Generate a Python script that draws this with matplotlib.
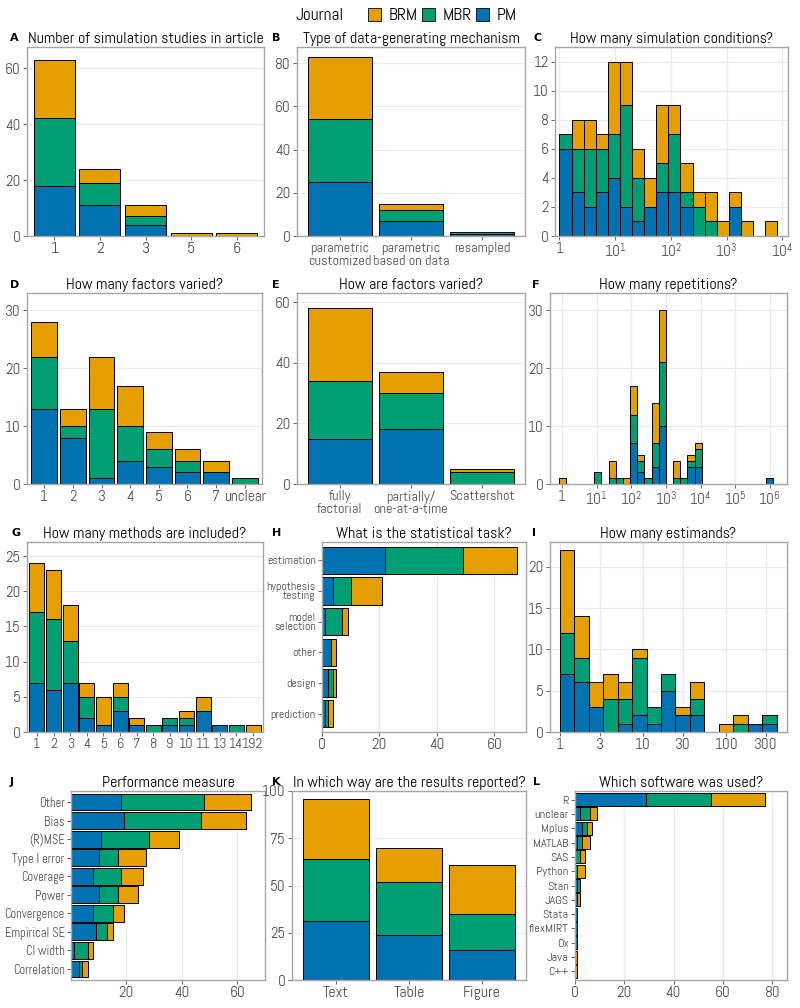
import numpy as np
import matplotlib
matplotlib.use('Agg')
import matplotlib.pyplot as plt
from matplotlib.patches import Patch
from matplotlib.ticker import NullLocator

plt.rcParams['font.family'] = ['Abel', 'DejaVu Sans']
plt.rcParams['mathtext.fontset'] = 'custom'
plt.rcParams['mathtext.rm'] = 'Abel'

# ---- data ----
A_cats = ['1', '2', '3', '5', '6']
A_pm = [18, 11, 4, 0, 0]
A_mbr = [24, 8, 3, 0, 0]
A_brm = [21, 5, 4, 1, 1]

B_cats = ['parametric\ncustomized', 'parametric\nbased on data', 'resampled']
B_pm = [25, 7, 1]
B_mbr = [29, 5, 1]
B_brm = [29, 3, 0]

# histogram counts, log10 bins
C_pm = [6, 3, 2, 3, 4, 2, 1, 2, 3, 3, 2, 0, 0, 0, 2, 0, 0, 0]
C_mbr = [1, 3, 4, 3, 3, 7, 3, 0, 2, 4, 1, 2, 1, 0, 0, 0, 0, 0]
C_brm = [0, 2, 2, 1, 5, 3, 2, 2, 4, 2, 2, 1, 2, 1, 1, 1, 0, 1]
C_binwidth = 0.217

D_cats = ['1', '2', '3', '4', '5', '6', '7', 'unclear']
D_pm = [13, 8, 1, 4, 3, 2, 2, 0]
D_mbr = [9, 2, 12, 6, 3, 2, 0, 1]
D_brm = [6, 3, 9, 7, 3, 2, 2, 0]

E_cats = ['fully\nfactorial', 'partially/\none-at-a-time', 'Scattershot']
E_pm = [15, 18, 0]
E_mbr = [19, 12, 4]
E_brm = [24, 7, 1]

F_pm = [0, 0, 0, 0, 0, 0, 0, 0, 0, 0, 7, 2, 0, 3, 10, 0, 0, 0, 3, 3,
        0, 0, 0, 0, 0, 0, 0, 0, 0, 1]
F_mbr = [0, 0, 0, 0, 0, 2, 0, 1, 1, 0, 5, 2, 1, 4, 11, 0, 1, 1, 1, 3,
         0, 0, 0, 0, 0, 0, 0, 0, 0, 0]
F_brm = [1, 0, 0, 0, 0, 0, 0, 3, 0, 1, 5, 1, 0, 7, 9, 0, 3, 0, 1, 1,
         0, 0, 0, 0, 0, 0, 0, 0, 0, 0]
F_binwidth = 6 / 29

G_cats = ['1', '2', '3', '4', '5', '6', '7', '8', '9', '10', '11', '13', '14', '192']
G_pm = [7, 6, 7, 2, 1, 3, 1, 0, 1, 1, 3, 1, 0, 0]
G_mbr = [10, 10, 6, 3, 0, 2, 0, 1, 1, 1, 0, 0, 1, 0]
G_brm = [7, 7, 5, 2, 4, 2, 1, 0, 0, 1, 2, 0, 0, 1]

H_cats = ['estimation', 'hypothesis\ntesting', 'model\nselection', 'other',
          'design', 'prediction']
H_pm = [22, 4, 1, 3, 2, 1]
H_mbr = [27, 6, 6, 0, 2, 1]
H_brm = [19, 11, 2, 2, 1, 2]

I_pm = [7, 6, 3, 0, 1, 2, 1, 5, 2, 2, 0, 0, 0, 1, 1]
I_mbr = [5, 3, 0, 4, 3, 7, 2, 2, 0, 2, 0, 0, 1, 0, 1]
I_brm = [10, 5, 3, 3, 2, 1, 0, 0, 1, 2, 0, 1, 1, 0, 0]
I_binwidth = 0.1736

J_cats = ['Other', 'Bias', '(R)MSE', 'Type I error', 'Coverage', 'Power',
          'Convergence', 'Empirical SE', 'CI width', 'Correlation']
J_pm = [18, 19, 11, 10, 8, 10, 8, 9, 1, 3]
J_mbr = [30, 28, 17, 7, 10, 7, 7, 4, 5, 1]
J_brm = [17, 16, 11, 10, 8, 7, 4, 2, 2, 2]

K_cats = ['Text', 'Table', 'Figure']
K_pm = [31, 24, 16]
K_mbr = [33, 28, 19]
K_brm = [32, 18, 26]

L_cats = ['R', 'unclear', 'Mplus', 'MATLAB', 'SAS', 'Python', 'Stan', 'JAGS',
          'Stata', 'flexMIRT', 'Ox', 'Java', 'C++']
L_pm = [29, 2, 3, 1, 0, 0, 1, 1, 1, 1, 1, 0, 0]
L_mbr = [26, 4, 2, 2, 2, 1, 1, 0, 0, 0, 0, 0, 0]
L_brm = [22, 3, 2, 3, 2, 3, 0, 1, 0, 0, 0, 1, 1]

COLS = {'PM': '#0072B2', 'MBR': '#009E73', 'BRM': '#E69F00'}
TXT = '#4D4D4D'
GRID = '#EBEBEB'

W, H = 800, 1008
fig = plt.figure(figsize=(W / 100, H / 100), dpi=100)


def px_axes(l, t, r, b):
    return fig.add_axes([l / W, 1 - b / H, (r - l) / W, (b - t) / H])


def style(ax, grid):
    for s in ax.spines.values():
        s.set_color('#A6A6A6')
        s.set_linewidth(1.0)
    ax.tick_params(color='#555555', labelcolor=TXT, length=3, width=0.6,
                   labelsize=11, pad=1.5)
    ax.set_axisbelow(True)
    if 'x' in grid:
        ax.grid(True, axis='x', color=GRID, lw=0.9)
    if 'y' in grid:
        ax.grid(True, axis='y', color=GRID, lw=0.9)


def series(pm, mbr, brm):
    return [(np.array(pm, float), 'PM'), (np.array(mbr, float), 'MBR'),
            (np.array(brm, float), 'BRM')]


def stack_v(ax, cats, pm, mbr, brm, size=11):
    x = np.arange(len(cats))
    bottom = np.zeros(len(cats))
    for v, j in series(pm, mbr, brm):
        m = v > 0
        ax.bar(x[m], v[m], 0.9, bottom=bottom[m], color=COLS[j],
               edgecolor='black', linewidth=0.7)
        bottom += v
    ax.set_xticks(x)
    ax.set_xticklabels(cats, linespacing=0.95)
    ax.set_xlim(-0.6, len(cats) - 0.4)
    style(ax, 'y')
    ax.tick_params(axis='x', labelsize=size)


def stack_h(ax, cats, pm, mbr, brm, size=9):
    n = len(cats)
    y = np.arange(n)[::-1]
    left = np.zeros(n)
    for v, j in series(pm, mbr, brm):
        m = v > 0
        ax.barh(y[m], v[m], 0.9, left=left[m], color=COLS[j],
                edgecolor='black', linewidth=0.7)
        left += v
    ax.set_yticks(y)
    ax.set_yticklabels(cats, linespacing=0.9)
    ax.set_ylim(-0.6, n - 0.4)
    style(ax, 'x')
    ax.tick_params(axis='y', labelsize=size)


def stack_hist(ax, edges, pm, mbr, brm):
    lo = 10 ** edges[:-1]
    wd = 10 ** edges[1:] - lo
    bottom = np.zeros(len(lo))
    for v, j in series(pm, mbr, brm):
        m = v > 0
        ax.bar(lo[m], v[m], wd[m], bottom=bottom[m], align='edge',
               color=COLS[j], edgecolor='black', linewidth=0.7)
        bottom += v
    ax.set_xscale('log')
    ax.xaxis.set_minor_locator(NullLocator())
    style(ax, 'xy')


def pow_labels(n):
    return ['1'] + [r'$\mathregular{10^{%d}}$' % k for k in range(1, n + 1)]


def title(ax, txt, lab, lx, ty):
    ax.set_title(txt, fontsize=11.5, pad=3)
    fig.text(lx / W, 1 - ty / H, lab, fontsize=8, weight='bold',
             family='DejaVu Sans', va='center')


# A
ax = px_axes(27, 47, 264, 236)
stack_v(ax, A_cats, A_pm, A_mbr, A_brm, 11.5)
ax.set_ylim(0, 67.5)
ax.set_yticks([0, 20, 40, 60])
title(ax, 'Number of simulation studies in article', 'A', 10, 38)

# B
ax = px_axes(297, 47, 525, 236)
stack_v(ax, B_cats, B_pm, B_mbr, B_brm, 10.3)
ax.set_ylim(0, 87.5)
ax.set_yticks([0, 20, 40, 60, 80])
title(ax, 'Type of data-generating mechanism', 'B', 272, 38)

# C
ax = px_axes(555, 47, 788, 236)
stack_hist(ax, np.arange(len(C_pm) + 1) * C_binwidth, C_pm, C_mbr, C_brm)
ax.set_xlim(10 ** -0.08, 10 ** 4.1)
ax.set_xticks([10 ** k for k in range(5)])
ax.set_xticklabels(pow_labels(4))
ax.set_ylim(0, 13)
ax.set_yticks(range(0, 13, 2))
title(ax, 'How many simulation conditions?', 'C', 533, 38)

# D
ax = px_axes(27, 293, 262, 484)
stack_v(ax, D_cats, D_pm, D_mbr, D_brm, 11)
ax.set_ylim(0, 33)
ax.set_yticks([0, 10, 20, 30])
title(ax, 'How many factors varied?', 'D', 10, 285)

# E
ax = px_axes(297, 293, 525, 484)
stack_v(ax, E_cats, E_pm, E_mbr, E_brm, 10.3)
ax.set_ylim(0, 63)
ax.set_yticks([0, 20, 40, 60])
title(ax, 'How are factors varied?', 'E', 272, 285)

# F
ax = px_axes(550, 293, 787, 484)
stack_hist(ax, (np.arange(len(F_pm) + 1) - 0.5) * F_binwidth, F_pm, F_mbr, F_brm)
ax.set_xlim(10 ** -0.35, 10 ** 6.5)
ax.set_xticks([10 ** k for k in range(7)])
ax.set_xticklabels(pow_labels(6))
ax.set_ylim(0, 33)
ax.set_yticks([0, 10, 20, 30])
title(ax, 'How many repetitions?', 'F', 532, 285)

# G
ax = px_axes(27, 542, 263, 732)
stack_v(ax, G_cats, G_pm, G_mbr, G_brm, 10.3)
ax.set_ylim(0, 27)
ax.set_yticks([0, 5, 10, 15, 20, 25])
title(ax, 'How many methods are included?', 'G', 12, 533)

# H
ax = px_axes(322, 542, 526, 732)
stack_h(ax, H_cats, H_pm, H_mbr, H_brm, 8.6)
ax.set_xlim(0, 71)
ax.set_xticks([0, 20, 40, 60])
title(ax, 'What is the statistical task?', 'H', 272, 533)

# I
ax = px_axes(550, 542, 787, 732)
stack_hist(ax, np.arange(len(I_pm) + 1) * I_binwidth, I_pm, I_mbr, I_brm)
ax.set_xlim(10 ** -0.12, 10 ** 2.73)
ax.set_xticks([1, 3, 10, 30, 100, 300])
ax.set_xticklabels(['1', '3', '10', '30', '100', '300'])
ax.set_ylim(0, 23)
ax.set_yticks([0, 5, 10, 15, 20])
title(ax, 'How many estimands?', 'I', 532, 533)

# J
ax = px_axes(71, 791, 265, 980)
stack_h(ax, J_cats, J_pm, J_mbr, J_brm, 9)
ax.set_xlim(0, 70)
ax.set_xticks([20, 40, 60])
title(ax, 'Performance measure', 'J', 10, 782)

# K
ax = px_axes(292, 791, 526, 980)
stack_v(ax, K_cats, K_pm, K_mbr, K_brm, 11.5)
ax.set_ylim(0, 100)
ax.set_yticks([0, 25, 50, 75, 100])
title(ax, 'In which way are the results reported?', 'K', 272, 782)

# L
ax = px_axes(575, 791, 787, 980)
stack_h(ax, L_cats, L_pm, L_mbr, L_brm, 8.8)
ax.set_xlim(0, 86)
ax.set_xticks([0, 20, 40, 60, 80])
title(ax, 'Which software was used?', 'L', 533, 782)

# legend
fig.text(295 / W, 1 - 16 / H, 'Journal', fontsize=12.5, va='center')
handles = [Patch(facecolor=COLS[j], edgecolor='black', linewidth=0.6)
           for j in ('BRM', 'MBR', 'PM')]
fig.legend(handles, ['BRM', 'MBR', 'PM'], loc='center left',
           bbox_to_anchor=(359 / W, 1 - 16 / H), ncol=3, frameon=False,
           fontsize=12.5, handlelength=0.75, handleheight=0.85,
           handletextpad=0.45, columnspacing=0.25, borderpad=0)

fig.savefig('out.png', dpi=100)
